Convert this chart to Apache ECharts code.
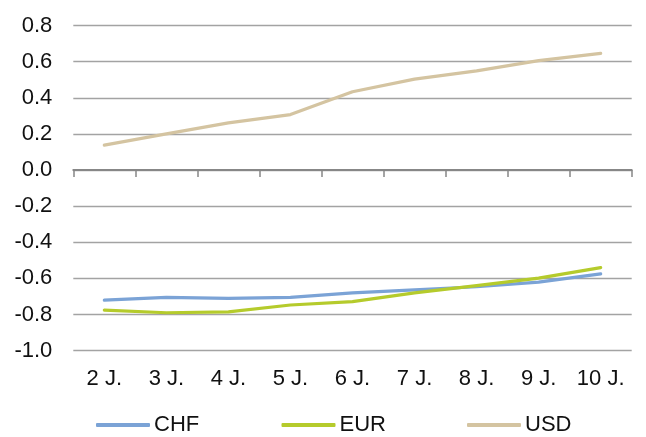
<!DOCTYPE html>
<html>
<head>
<meta charset="utf-8">
<script src="https://cdn.jsdelivr.net/npm/echarts@6/dist/echarts.min.js"></script>
<style>
  html, body { margin: 0; padding: 0; background: #ffffff; }
  #chart { width: 646px; height: 437px; }
</style>
</head>
<body>
<div id="chart"></div>
<script>
// Maturities (years) on the horizontal axis
const categories = ['2 J.', '3 J.', '4 J.', '5 J.', '6 J.', '7 J.', '8 J.', '9 J.', '10 J.'];

// Yields per currency, in percent
const chf = [-0.72, -0.705, -0.71, -0.705, -0.68, -0.663, -0.646, -0.62, -0.575];
const eur = [-0.775, -0.79, -0.785, -0.747, -0.728, -0.68, -0.64, -0.598, -0.54];
const usd = [0.138, 0.2, 0.261, 0.307, 0.433, 0.503, 0.549, 0.606, 0.646];

const seriesNames = ['CHF', 'EUR', 'USD'];
const seriesColors = ['#7ba3d6', '#b5cb2c', '#d4c4a1'];
const seriesData = [chf, eur, usd];

const FONT = 'Liberation Sans';
const TEXT_COLOR = '#111111';
const FONT_SIZE = 22;

const chart = echarts.init(document.getElementById('chart'), null, { renderer: 'canvas' });

function legendAt(name, left) {
  return {
    data: [{ name: name, icon: 'roundRect' }],
    left: left,
    top: 414,
    itemWidth: 54,
    itemHeight: 4,
    itemGap: 0,
    padding: 0,
    textStyle: { fontFamily: FONT, fontSize: FONT_SIZE, color: TEXT_COLOR, padding: [0, 0, 0, -1] }
  };
}

chart.setOption({
  animation: false,
  backgroundColor: '#ffffff',
  grid: { left: 73.3, right: 14.3, top: 25.5, bottom: 86.3, containLabel: false },
  legend: [legendAt('CHF', 96), legendAt('EUR', 281.5), legendAt('USD', 467)],
  xAxis: [
    {
      // zero line with category ticks
      type: 'category',
      data: categories,
      boundaryGap: true,
      position: 'bottom',
      axisLine: { show: true, onZero: true, lineStyle: { color: '#878787', width: 2 } },
      axisTick: { show: true, length: 7, lineStyle: { color: '#878787', width: 1.5 } },
      axisLabel: { show: false },
      splitLine: { show: false }
    },
    {
      // category labels along the bottom
      type: 'category',
      data: categories,
      boundaryGap: true,
      position: 'bottom',
      axisLine: { show: false, onZero: false },
      axisTick: { show: false },
      axisLabel: { show: true, margin: 17, fontFamily: FONT, fontSize: FONT_SIZE, color: TEXT_COLOR },
      splitLine: { show: false }
    }
  ],
  yAxis: {
    type: 'value',
    min: -1.0,
    max: 0.8,
    interval: 0.2,
    axisLine: { show: false },
    axisTick: { show: false },
    axisLabel: {
      margin: 21,
      fontFamily: FONT,
      fontSize: FONT_SIZE,
      color: TEXT_COLOR,
      formatter: v => v.toFixed(1)
    },
    splitLine: { show: true, lineStyle: { color: '#a3a3a3', width: 1.3 } }
  },
  series: seriesNames.map((name, i) => ({
    name: name,
    type: 'line',
    xAxisIndex: 0,
    data: seriesData[i],
    symbol: 'none',
    smooth: false,
    color: seriesColors[i],
    itemStyle: { color: seriesColors[i] },
    lineStyle: { color: seriesColors[i], width: 3.2, cap: 'round', join: 'round' },
    z: 3 + i
  }))
});
</script>
</body>
</html>
